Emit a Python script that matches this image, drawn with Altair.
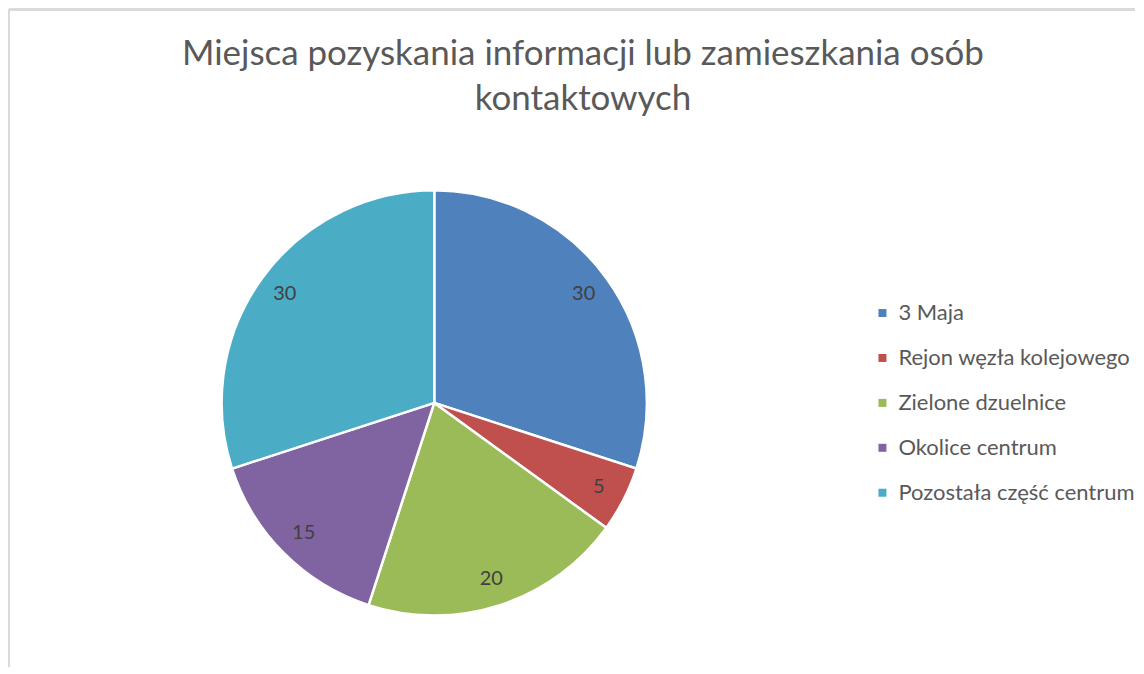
import altair as alt
import pandas as pd

categories = ["3 Maja", "Rejon węzła kolejowego", "Zielone dzuelnice", "Okolice centrum", "Pozostała część centrum"]
values = [30, 5, 20, 15, 30]
colors = ["#4F81BD", "#C0504D", "#9BBB59", "#8064A2", "#4BACC6"]
title_lines = ["Miejsca pozyskania informacji lub zamieszkania osób", "kontaktowych"]

W, H = 1128, 658
CX, CY = 426, 394
R = 213
FONT = "Lato"

df = pd.DataFrame({"cat": categories, "val": values, "ord": list(range(len(values)))})
tdf = pd.DataFrame({"t": title_lines, "line": [0, 1]})

base = alt.Chart(df).encode(
    theta=alt.Theta("val:Q", stack=True),
    order=alt.Order("ord:Q"),
)

pie = base.mark_arc(outerRadius=R, stroke="white", strokeWidth=2.5).encode(
    x=alt.value(CX), y=alt.value(CY),
    color=alt.Color("cat:N", sort=categories,
                    scale=alt.Scale(domain=categories, range=colors),
                    legend=alt.Legend(title=None, orient="none", legendX=864, legendY=293,
                                      symbolType="square", symbolSize=64, symbolStrokeWidth=0,
                                      labelFontSize=22, labelFont=FONT, labelColor="#595959",
                                      rowPadding=23, labelOffset=5, labelLimit=400)),
)

labels = base.mark_text(radius=185, fontSize=20, font=FONT, color="#404040").encode(
    x=alt.value(CX), y=alt.value(CY),
    text=alt.Text("val:Q"),
)

title = alt.Chart(tdf).mark_text(fontSize=35, font=FONT, color="#595959", align="center", baseline="alphabetic").encode(
    x=alt.value(575),
    y=alt.Y("line:Q", scale=alt.Scale(domain=[0, 1], range=[56, 101]), axis=None),
    text="t:N",
)

border = alt.Chart(df).mark_rule(color="#D9D9D9", strokeWidth=2).encode(
    x=alt.value(0), y=alt.value(0), y2=alt.value(H),
)
border_top = alt.Chart(df).mark_rule(color="#D9D9D9", strokeWidth=2).encode(
    x=alt.value(0), x2=alt.value(W), y=alt.value(0),
)

chart = alt.layer(border, border_top, title, pie, labels).properties(
    width=W, height=H, padding=0
).configure_view(stroke=None).resolve_scale(y="independent")

chart.save("out.html", embed_options={"renderer": "svg", "actions": False})
